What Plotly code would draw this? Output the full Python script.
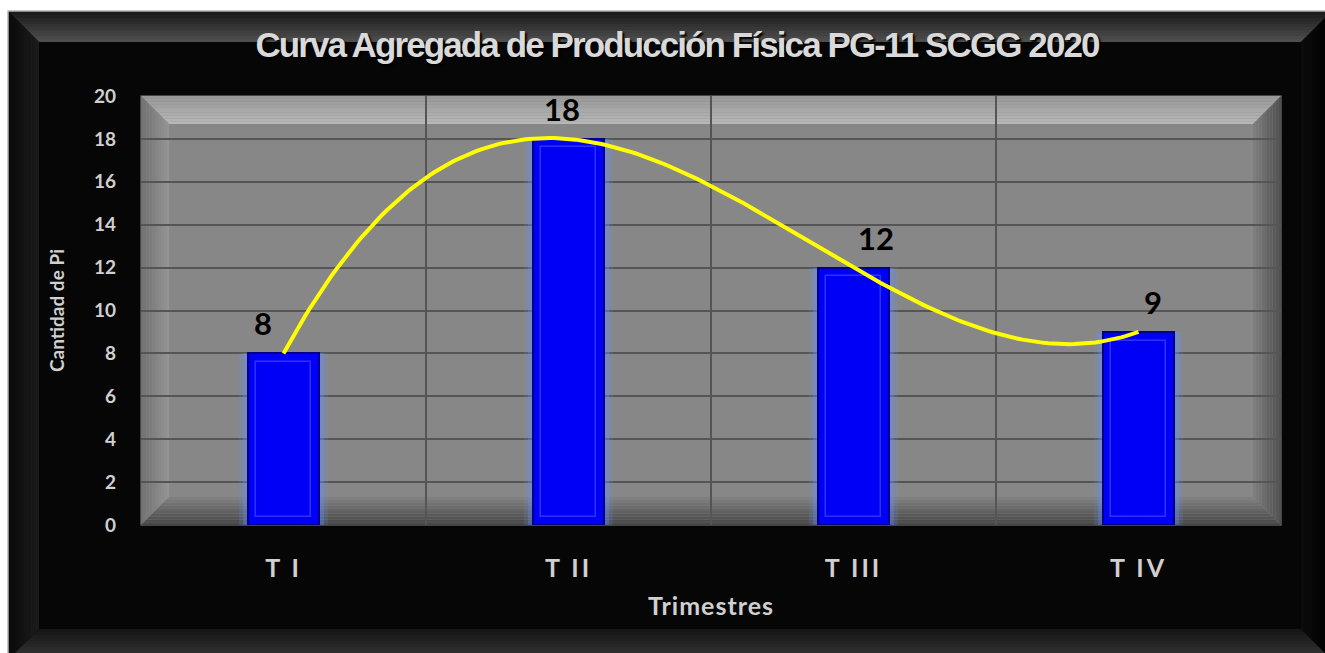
import numpy as np
import plotly.graph_objects as go

categories = ["T I", "T II", "T III", "T IV"]
values = [8, 18, 12, 9]
y_ticks = [0, 2, 4, 6, 8, 10, 12, 14, 16, 18, 20]
label_xshift = [-21, -7, 22, 14]  # style: data-label nudges as in the reference

W, H = 1325, 653
L, R, T, B = 141, 44, 96, 128
PX0, PX1, PY0, PY1 = L, W - R, T, H - B


def px(X):
    return (X - PX0) / (PX1 - PX0)


def py(Y):
    return (PY1 - Y) / (PY1 - PY0)


def poly(points, color, line=None):
    d = "M " + " L ".join(f"{px(a):.5f},{py(b):.5f}" for a, b in points) + " Z"
    return dict(type="path", xref="paper", yref="paper", path=d, fillcolor=color,
                line=dict(width=0) if line is None else line, layer="below")


def mix(c1, c2, t):
    return "rgb(%d,%d,%d)" % tuple(int(round(a + (b - a) * t)) for a, b in zip(c1, c2))


def bevel(x0, y0, x1, y1, w, n, cols):
    shapes = []
    for i in range(n):
        a = w * i / n
        b = w * (i + 1) / n
        t = (i + 0.5) / n
        ox0, oy0, ox1, oy1 = x0 + a, y0 + a, x1 - a, y1 - a
        ix0, iy0, ix1, iy1 = x0 + b, y0 + b, x1 - b, y1 - b
        shapes.append(poly([(ox0, oy0), (ox1, oy0), (ix1, iy0), (ix0, iy0)], mix(*cols["top"], t)))
        shapes.append(poly([(ox0, oy0), (ix0, iy0), (ix0, iy1), (ox0, oy1)], mix(*cols["left"], t)))
        shapes.append(poly([(ox0, oy1), (ix0, iy1), (ix1, iy1), (ox1, oy1)], mix(*cols["bottom"], t)))
        shapes.append(poly([(ox1, oy0), (ix1, iy0), (ix1, iy1), (ox1, oy1)], mix(*cols["right"], t)))
    return shapes


shapes = []
shapes.append(poly([(0, 0), (W, 0), (W, H), (0, H)], "white"))
shapes.append(poly([(8, 11), (W + 2, 11), (W + 2, H + 2), (8, H + 2)], "#060606",
                   line=dict(color="#b8b8b8", width=1.5)))
shapes += bevel(9, 12, W + 6, H + 6, 30, 10, {
    "top": ((25, 25, 25), (80, 80, 80)),
    "left": ((10, 10, 10), (28, 28, 28)),
    "bottom": ((55, 55, 55), (20, 20, 20)),
    "right": ((0, 0, 0), (12, 12, 12)),
})
shapes.append(poly([(39, 42), (W - 24, 42), (W - 24, H - 24), (39, H - 24)], "#060606"))
# plot-area wall with bevelled frame
shapes.append(poly([(PX0, PY0), (PX1, PY0), (PX1, PY1), (PX0, PY1)], "#878787",
                   line=dict(color="#5a5a5a", width=1.5)))
shapes += bevel(PX0, PY0, PX1, PY1, 28, 10, {
    "top": ((150, 150, 150), (185, 185, 185)),
    "left": ((112, 112, 112), (150, 150, 150)),
    "bottom": ((68, 68, 68), (130, 130, 130)),
    "right": ((78, 78, 78), (128, 128, 128)),
})
shapes.append(poly([(PX0 + 28, PY0 + 28), (PX1 - 28, PY0 + 28), (PX1 - 28, PY1 - 28),
                    (PX0 + 28, PY1 - 28)], "#878787"))

fig = go.Figure()

# soft glow behind bars
for w, op in [(0.31, 0.16), (0.283, 0.3)]:
    fig.add_trace(go.Bar(x=categories, y=values, width=w,
                         marker=dict(color=f"rgba(100,145,255,{op})", line=dict(width=0)),
                         hoverinfo="skip", showlegend=False))

fig.add_trace(go.Bar(
    x=categories, y=values, width=0.25,
    marker=dict(color="#0000f6", line=dict(color="#00008c", width=2)),
    showlegend=False,
))
# inner bevel rim of each bar
fig.add_trace(go.Bar(
    x=categories, y=[v - 0.75 for v in values], base=[0.35] * len(values), width=0.19,
    marker=dict(color="rgba(0,0,255,0)", line=dict(color="#3030ff", width=1.5)),
    hoverinfo="skip", showlegend=False,
))

# smooth curve: cubic fitted through the four values
coef = np.polyfit(np.arange(len(values)), values, 3)
xs = np.linspace(0, len(values) - 1, 200)
fig.add_trace(go.Scatter(
    x=xs, y=np.polyval(coef, xs), mode="lines", xaxis="x2",
    line=dict(color="#ffff00", width=4), showlegend=False, hoverinfo="skip",
))

annotations = []
for c, v, dx in zip(categories, values, label_xshift):
    annotations.append(dict(x=c, y=v, xref="x", yref="y", text=str(v), showarrow=False,
                            yanchor="bottom", yshift=9, xshift=dx,
                            font=dict(family="Lato", size=31, color="black", weight="bold")))

fig.update_layout(
    width=W, height=H,
    margin=dict(l=L, r=R, t=T, b=B),
    paper_bgcolor="white", plot_bgcolor="#878787",
    barmode="overlay", bargap=0,
    shapes=shapes, annotations=annotations,
    title=dict(text='<span style="letter-spacing:-1.9px">Curva Agregada de Producción Física PG-11 SCGG 2020</span>',
               x=677 / W, xref="container", xanchor="center", y=1 - 45 / H, yanchor="middle",
               font=dict(family="Liberation Sans", size=35, color="#d9d9d9", weight="bold",
                         shadow="2px 2px 2px #000")),
    xaxis2=dict(overlaying="x", range=[-0.5, len(values) - 0.5], visible=False),
)
fig.layout.xaxis.update(
    type="category", range=[-0.5, len(values) - 0.5],
    tickson="boundaries", showgrid=True, gridcolor="#555555", gridwidth=1.5,
    ticks="", showline=False, zeroline=False,
    tickvals=categories,
    ticktext=[f'<span style="letter-spacing:3px">{c}</span>' for c in categories],
    tickfont=dict(family="Lato", size=25, color="#d0d0d0", weight="bold"),
    ticklabelstandoff=26,
    title=dict(text='<span style="letter-spacing:1px">Trimestres</span>', standoff=16,
               font=dict(family="Lato", size=25, color="#d0d0d0", weight="bold")),
)
fig.layout.yaxis.update(
    range=[0, 20], tickvals=y_ticks, showgrid=True, gridcolor="#555555", gridwidth=1.5,
    zeroline=False, showline=False, ticks="",
    tickfont=dict(family="Lato", size=19, color="#d0d0d0", weight="bold"),
    ticklabelstandoff=24,
    title=dict(text="Cantidad de Pi", standoff=24,
               font=dict(family="Lato", size=19, color="#d0d0d0", weight="bold")),
)

fig.write_html("out.html", config={"displayModeBar": False},
               post_script="document.body.style.margin='0px';document.body.style.overflow='hidden';")
